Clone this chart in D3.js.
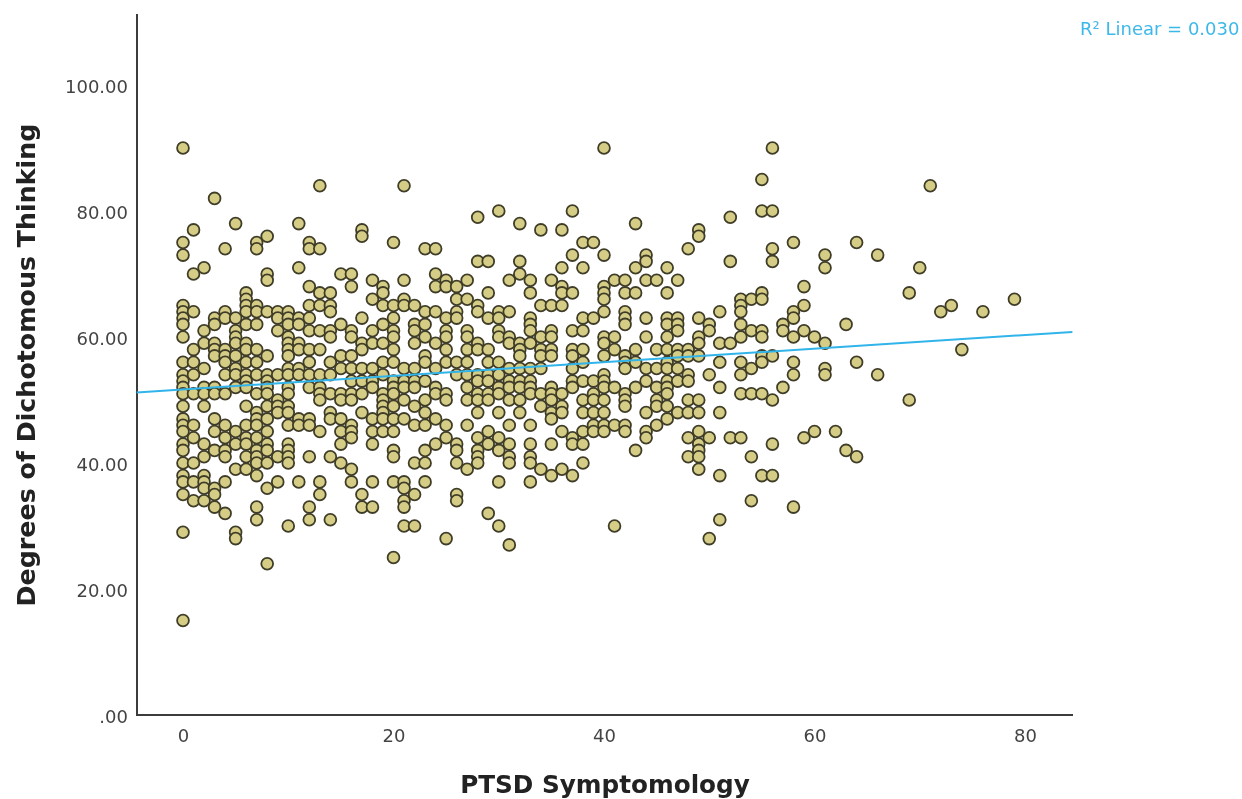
<!DOCTYPE html>
<html>
<head>
<meta charset="utf-8">
<title>PTSD Symptomology scatter</title>
<script src="https://cdnjs.cloudflare.com/ajax/libs/d3/7.8.5/d3.min.js"></script>
<style>
  html, body { margin: 0; padding: 0; background: #fff; }
  svg { display: block; filter: blur(0.45px); }
  text { font-family: "DejaVu Sans", sans-serif; }
</style>
</head>
<body>
<div id="scatterPlot"></div>
<script>
var width = 1242;
var height = 799;

// tick labels
var xTicks = [0, 20, 40, 60, 80];
var yTicks = [0, 20, 40, 60, 80, 100];

// dichotomous thinking scores, one list for each PTSD score
var scores0 = [90,75,73,65,64,63,62,60,56,54,53,52,51,49,47,46,45,43,42,40,38,37,35,29,15];
var scores1 = [77,70,64,58,56,54,51,46,44,40,37,34];
var scores2 = [71,61,59,55,52,51,49,43,41,38,37,36,34];
var scores3 = [82,63,62,59,58,57,52,51,47,45,42,36,35,33];
var scores4 = [74,64,63,58,57,56,54,51,46,44,42,41,37,32];
var scores5 = [78,63,61,60,59,57,55,54,52,45,43,39,29,28];
var scores6 = [67,66,65,64,62,59,58,56,54,53,52,49,46,44,43,41,39];
var scores7 = [75,74,65,64,62,58,56,54,51,48,47,46,44,42,41,40,38,33,31];
var scores8 = [76,70,69,64,57,54,53,52,51,49,47,45,43,42,40,36,24];
var scores9 = [64,63,61,54,50,49,48,41,37];
var scores10 = [64,63,62,60,59,58,57,55,54,52,51,49,48,46,43,42,41,40,30];
var scores11 = [78,71,63,62,59,58,55,54,47,46,37];
var scores12 = [75,74,68,65,63,61,58,56,54,52,47,46,41,33,31];
var scores13 = [84,74,67,65,61,58,54,52,51,50,45,37,35];
var scores14 = [67,65,64,61,60,56,54,51,48,47,41,31];
var scores15 = [70,62,57,55,51,50,47,45,43,40];
var scores16 = [70,68,61,60,57,55,53,51,50,46,45,44,39,37];
var scores17 = [77,76,63,59,58,55,53,51,48,35,33];
var scores18 = [69,66,61,59,55,53,52,47,45,43,37,33];
var scores19 = [68,67,65,62,59,56,54,51,50,49,48,47,45];
var scores20 = [75,65,63,61,60,58,56,53,52,51,49,47,45,42,41,37,25];
var scores21 = [84,69,66,65,55,53,52,50,47,37,36,34,33,30];
var scores22 = [65,62,61,59,55,53,52,49,46,40,35,30];
var scores23 = [74,64,62,60,57,56,53,50,48,46,42,40,37];
var scores24 = [74,70,68,64,59,55,52,51,47,43];
var scores25 = [69,68,63,61,60,58,56,51,50,46,44,28];
var scores26 = [68,66,64,63,56,54,43,42,40,35,34];
var scores27 = [69,66,61,60,58,56,54,52,50,46,39];
var scores28 = [79,72,65,64,59,58,54,53,51,50,48,44,42,41,40];
var scores29 = [72,67,63,58,56,54,53,51,50,45,43,32];
var scores30 = [80,64,63,61,60,56,54,52,51,48,44,42,37,30];
var scores31 = [69,64,60,59,55,53,52,50,46,43,41,40,27];
var scores32 = [78,72,70,59,58,57,55,53,52,50,48];
var scores33 = [69,67,63,62,61,59,55,53,52,51,46,43,41,40,37];
var scores34 = [77,65,60,58,57,55,51,49,39];
var scores35 = [69,65,61,60,58,57,52,51,50,48,47,43,38];
var scores36 = [77,71,68,67,65,51,49,48,45,39];
var scores37 = [80,73,67,61,58,57,55,53,52,44,43,38];
var scores38 = [75,71,63,61,58,56,53,50,48,45,43,40];
var scores39 = [75,63,53,51,50,48,46,45];
var scores40 = [90,73,68,67,66,64,60,59,57,54,53,52,50,48,46,45];
var scores41 = [69,60,58,52,46,30];
var scores42 = [69,67,64,63,62,57,56,55,51,50,49,46,45];
var scores43 = [78,71,67,58,56,52,42];
var scores44 = [73,72,69,63,60,55,53,48,45,44];
var scores45 = [69,58,55,52,50,49,46];
var scores46 = [71,67,63,62,60,58,56,55,53,52,51,49,47];
var scores47 = [69,63,62,61,58,57,55,53,48];
var scores48 = [74,58,57,54,53,50,48,44,41];
var scores49 = [77,76,63,60,59,57,50,48,45,43,42,41,39];
var scores50 = [62,61,54,44,28];
var scores51 = [64,59,56,52,48,38,31];
var scores52 = [79,72,59,44];
var scores53 = [66,65,64,62,60,56,54,51,44];
var scores54 = [66,61,55,51,41,34];
var scores55 = [85,80,67,66,61,60,57,56,51,38];
var scores56 = [90,80,74,72,57,50,43,38];
var scores57 = [62,61,52];
var scores58 = [75,64,63,60,56,54,33];
var scores59 = [68,65,61,44];
var scores60 = [60,45];
var scores61 = [73,71,59,55,54];
var scores62 = [45];
var scores63 = [62,42];
var scores64 = [75,56,41];
var scores66 = [73,54];
var scores69 = [67,50];
var scores70 = [71];
var scores71 = [84];
var scores72 = [64];
var scores73 = [65];
var scores74 = [58];
var scores76 = [64];
var scores79 = [66];

var scoreColumns = [
  [0,scores0],[1,scores1],[2,scores2],[3,scores3],[4,scores4],[5,scores5],[6,scores6],[7,scores7],
  [8,scores8],[9,scores9],[10,scores10],[11,scores11],[12,scores12],[13,scores13],[14,scores14],
  [15,scores15],[16,scores16],[17,scores17],[18,scores18],[19,scores19],[20,scores20],[21,scores21],
  [22,scores22],[23,scores23],[24,scores24],[25,scores25],[26,scores26],[27,scores27],[28,scores28],
  [29,scores29],[30,scores30],[31,scores31],[32,scores32],[33,scores33],[34,scores34],[35,scores35],
  [36,scores36],[37,scores37],[38,scores38],[39,scores39],[40,scores40],[41,scores41],[42,scores42],
  [43,scores43],[44,scores44],[45,scores45],[46,scores46],[47,scores47],[48,scores48],[49,scores49],
  [50,scores50],[51,scores51],[52,scores52],[53,scores53],[54,scores54],[55,scores55],[56,scores56],
  [57,scores57],[58,scores58],[59,scores59],[60,scores60],[61,scores61],[62,scores62],[63,scores63],
  [64,scores64],[66,scores66],[69,scores69],[70,scores70],[71,scores71],[72,scores72],[73,scores73],
  [74,scores74],[76,scores76],[79,scores79]
];

// fit line, ends
var fitX = [-4.4, 84.5];
var fitY = [51.2, 60.8];

var points = [];
scoreColumns.forEach(function(col) {
  col[1].forEach(function(v) {
    points.push({ x: col[0], y: v });
  });
});

var svg = d3.select("#scatterPlot").append("svg")
  .attr("width", width)
  .attr("height", height);

var xScale = d3.scaleLinear().domain([0, 80]).range([183, 1025]);
var yScale = d3.scaleLinear().domain([0, 100]).range([715, 85]);

var axisColor = "#3c3c3c";
var labelColor = "#444";

// axes
var xAxis = d3.axisBottom(xScale).tickValues(xTicks).tickSize(0).tickPadding(14);
var yAxis = d3.axisLeft(yScale).tickValues(yTicks).tickSize(0).tickPadding(9)
  .tickFormat(function(d) { return d === 0 ? ".00" : d3.format(".2f")(d); });

var xAxisGroup = svg.append("g")
  .attr("transform", "translate(0, 715)")
  .call(xAxis);
xAxisGroup.select(".domain").remove();
xAxisGroup.append("line")
  .attr("x1", 136).attr("x2", 1073)
  .attr("stroke", axisColor).attr("stroke-width", 2);

var yAxisGroup = svg.append("g")
  .attr("transform", "translate(137, 0)")
  .call(yAxis);
yAxisGroup.select(".domain").remove();
yAxisGroup.append("line")
  .attr("y1", 14).attr("y2", 716)
  .attr("stroke", axisColor).attr("stroke-width", 2);

svg.selectAll(".tick text")
  .style("font-size", "18px")
  .style("font-family", '"DejaVu Sans", sans-serif')
  .style("fill", labelColor);
yAxisGroup.selectAll(".tick text").attr("dy", "0.32em").attr("y", 2);

// points
svg.append("g").selectAll("circle")
  .data(points)
  .enter()
  .append("circle")
    .attr("cx", d => xScale(d.x))
    .attr("cy", d => yScale(d.y))
    .attr("r", 5.9)
    .style("fill", "#d5cd86")
    .style("stroke", "#3f3d28")
    .style("stroke-width", 1.8);

// fit line
var line = d3.line()
  .x(d => xScale(d[0]))
  .y(d => yScale(d[1]));

svg.append("path")
  .datum(d3.zip(fitX, fitY))
  .attr("d", line)
  .attr("fill", "none")
  .attr("stroke", "#30b4ea")
  .attr("stroke-width", 2);

// labels
svg.append("text")
  .attr("x", 605)
  .attr("y", 793)
  .style("text-anchor", "middle")
  .style("font-size", "24.7px")
  .style("font-weight", "bold")
  .style("fill", "#222")
  .text("PTSD Symptomology");

svg.append("text")
  .attr("transform", "rotate(-90)")
  .attr("x", -365)
  .attr("y", 35)
  .style("text-anchor", "middle")
  .style("font-size", "25.3px")
  .style("font-weight", "bold")
  .style("fill", "#222")
  .text("Degrees of Dichotomous Thinking");

svg.append("text")
  .attr("x", 1080)
  .attr("y", 35)
  .style("font-size", "18px")
  .style("fill", "#3db8ea")
  .text("R² Linear = 0.030");
</script>
</body>
</html>
